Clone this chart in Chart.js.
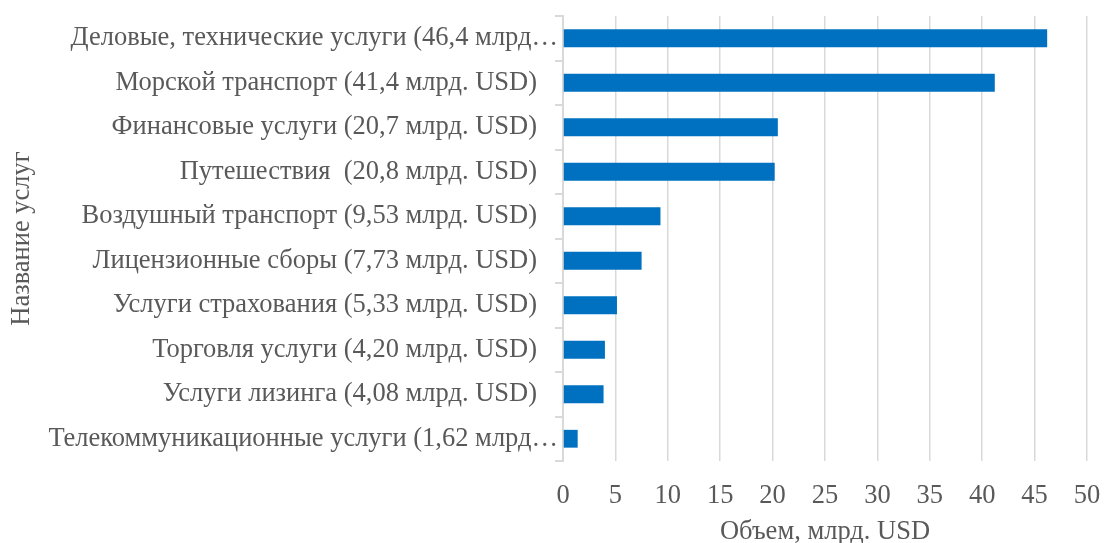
<!DOCTYPE html>
<html>
<head>
<meta charset="utf-8">
<script src="https://cdn.jsdelivr.net/npm/chart.js@4.4.1/dist/chart.umd.min.js"></script>
<style>
  html, body { margin: 0; padding: 0; background: #ffffff; }
  #wrap { width: 1104px; height: 543px; }
</style>
</head>
<body>
<div id="wrap"><canvas id="c" width="1104" height="543"></canvas></div>
<script>
// Category labels as shown on the chart (Excel truncated the two longest)
const categories = [
  "Деловые, технические услуги (46,4 млрд…",
  "Морской транспорт (41,4 млрд. USD)",
  "Финансовые услуги (20,7 млрд. USD)",
  "Путешествия  (20,8 млрд. USD)",
  "Воздушный транспорт (9,53 млрд. USD)",
  "Лицензионные сборы (7,73 млрд. USD)",
  "Услуги страхования (5,33 млрд. USD)",
  "Торговля услуги (4,20 млрд. USD)",
  "Услуги лизинга (4,08 млрд. USD)",
  "Телекоммуникационные услуги (1,62 млрд…"
];
// Bar lengths (млрд. USD)
const values = [46.2, 41.2, 20.5, 20.2, 9.3, 7.5, 5.15, 4.0, 3.87, 1.4];
const xTicks = [0, 5, 10, 15, 20, 25, 30, 35, 40, 45, 50];
const xTitle = "Объем, млрд. USD";
const yTitle = "Название услуг";

const FONT = "'Liberation Serif', 'Times New Roman', serif";
const FS = 26.5;
const TEXT = "#595959";
const GRID = "#d9d9d9";
const isTruncated = (s) => s.endsWith('…');

// Truncated labels sit right against the axis (as in the original); measure them
const mctx = document.createElement('canvas').getContext('2d');
mctx.font = 'normal ' + FS + 'px ' + FONT;
const widestTrunc = Math.max(...categories.filter(isTruncated).map(s => mctx.measureText(s).width));

new Chart(document.getElementById('c'), {
  type: 'bar',
  data: {
    labels: categories,
    datasets: [{
      data: values,
      backgroundColor: '#0070C0',
      borderWidth: 0,
      barPercentage: 0.4,
      categoryPercentage: 1.0,
      xAxisID: 'x',
      yAxisID: 'y'
    }]
  },
  options: {
    indexAxis: 'y',
    responsive: false,
    animation: false,
    devicePixelRatio: 1,
    layout: { padding: { top: 16, right: 17, bottom: 0, left: 0 } },
    plugins: { legend: { display: false }, tooltip: { enabled: false } },
    scales: {
      x: {
        min: 0, max: 50,
        afterBuildTicks: (s) => { s.ticks = xTicks.map(v => ({ value: v })); },
        afterFit: (s) => { s.height = 82; s.paddingLeft = 0; s.paddingRight = 0; },
        grid: { color: GRID, lineWidth: 1.5, drawTicks: false },
        border: { display: false },
        ticks: { color: TEXT, font: { family: FONT, size: FS }, padding: 19 },
        title: {
          display: true, text: xTitle, color: TEXT,
          font: { family: FONT, size: FS, lineHeight: 0.8 },
          padding: { top: 0, bottom: 0 }
        }
      },
      y: {
        weight: 1,
        afterFit: (s) => { s.width = 563; s.paddingTop = 0; s.paddingBottom = 0; },
        grid: { drawOnChartArea: false, drawTicks: true, tickLength: 8, color: GRID, lineWidth: 2 },
        border: { display: true, color: GRID, width: 2 },
        ticks: {
          color: TEXT, font: { family: FONT, size: FS }, padding: 18, autoSkip: false,
          callback: function (v) { const l = this.getLabelForValue(v); return isTruncated(l) ? '' : l; }
        },
        title: {
          display: true, text: yTitle, color: TEXT,
          font: { family: FONT, size: FS },
          padding: { top: 6.6, bottom: 0 }
        }
      },
      yTrunc: {
        type: 'category',
        axis: 'y',
        position: 'left',
        weight: 0,
        offset: true,
        labels: categories,
        afterFit: (s) => { s.width = 0; s.paddingTop = 0; s.paddingBottom = 0; },
        grid: { display: false, drawTicks: false },
        border: { display: false },
        ticks: {
          color: TEXT, font: { family: FONT, size: FS }, autoSkip: false,
          mirror: true, crossAlign: 'far', padding: -(widestTrunc + 5),
          callback: function (v) { const l = this.getLabelForValue(v); return isTruncated(l) ? l : ''; }
        }
      }
    }
  }
});
</script>
</body>
</html>
